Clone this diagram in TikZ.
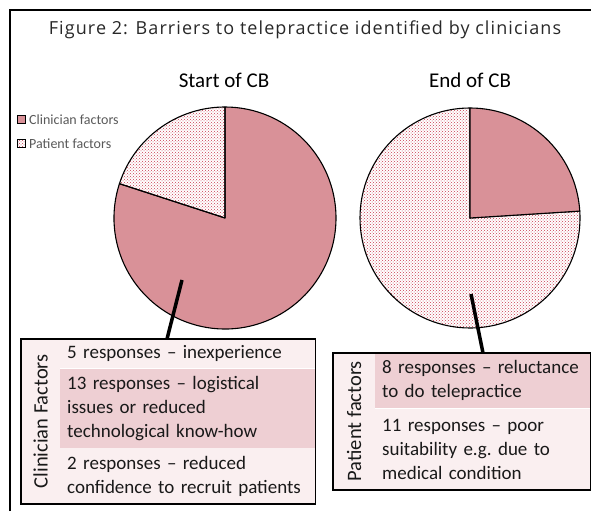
\documentclass[tikz,border=0pt]{standalone}
\usepackage{fontspec}
\setmainfont{Carlito}
\newfontfamily\titlefont[LetterSpace=6]{Open Sans}
\usetikzlibrary{patterns,positioning}
\definecolor{piepink}{RGB}{217,145,152}
\definecolor{dotred}{RGB}{200,60,80}
\definecolor{rowdark}{RGB}{238,207,211}
\definecolor{rowlight}{RGB}{250,239,240}
\definecolor{legendgray}{RGB}{89,89,89}
\definecolor{titlegray}{RGB}{40,40,40}
\begin{document}
\begin{tikzpicture}[x=1pt, y=1pt,
	row/.style={fill=#1, anchor=north west, inner xsep=7pt, inner ysep=0pt, align=left, font=\fontsize{19}{24}\selectfont, text=black!90},
	colbox/.style={fill=rowlight, anchor=north west, inner sep=0pt},
	coltext/.style={rotate=90, font=\fontsize{20.5}{22}\selectfont, text=black!90},
	slice/.style={draw=black, line width=1.1pt, line join=round},
	dots/.style={slice, pattern=crosshatch dots, pattern color=dotred},
	pointer/.style={line width=3.5pt},
	key/.style={draw=black, line width=1pt, minimum size=8pt, inner sep=0pt},
	keytext/.style={right=3pt of #1, inner sep=0pt, font=\fontsize{14}{16}\selectfont, text=legendgray}]
	\useasboundingbox (0,0) rectangle (591,511);
	\draw[line width=2pt] (10,0) -- (10,501) -- (591,501);
	\node[font=\titlefont\fontsize{18}{21}\selectfont, text=titlegray, anchor=base] (title) at (305,476) {Figure 2: Barriers to telepractice identified by clinicians};
	\node[font=\fontsize{21}{24}\selectfont, anchor=base] (start) at (224,423) {Start of CB};
	\node[font=\fontsize{21}{24}\selectfont, anchor=base] (end) at (470,423) {End of CB};
	\node[key, fill=piepink] (k1) at (21.5,391.5) {};
	\node[key, pattern=crosshatch dots, pattern color=dotred] (k2) at (21.5,367.5) {};
	\node[keytext=k1] (k1t) {Clinician factors};
	\node[keytext=k2] (k2t) {Patient factors};
	\coordinate (lpie) at (225,293);
	\coordinate (rpie) at (470,293);
	\filldraw[slice, fill=piepink] (lpie) -- ++(162:111) arc[start angle=162, end angle=450, radius=111] -- cycle;
	\draw[dots] (lpie) -- ++(90:111) arc[start angle=90, end angle=162, radius=111] -- cycle;
	\draw[dots] (rpie) -- ++(90:110) arc[start angle=90, end angle=363.6, radius=110] -- cycle;
	\filldraw[slice, fill=piepink] (rpie) -- ++(3.6:110) arc[start angle=3.6, end angle=90, radius=110] -- cycle;
	\node[colbox, minimum width=39pt, minimum height=164pt] (lc) at (21,172) {};
	\node[coltext] (lct) at (lc) {Clinician Factors};
	\node[row=rowlight, text width=241pt, minimum height=29pt] (c1) at (60,172) {5 responses -- inexperience};
	\node[row=rowdark, text width=241pt, minimum height=79pt] (c2) at (c1.south west) {13 responses -- logistical\\issues or reduced\\technological know-how};
	\node[row=rowlight, text width=241pt, minimum height=56pt] (c3) at (c2.south west) {2 responses -- reduced\\confidence to recruit patients};
	\draw[line width=1.5pt] (lc.north west) rectangle (c3.south east);
	\node[colbox, minimum width=42pt, minimum height=136pt] (rc) at (333,158) {};
	\node[coltext] (rct) at (rc) {Patient factors};
	\node[row=rowdark, text width=201pt, minimum height=55pt] (p1) at (375,158) {8 responses -- reluctance\\to do telepractice};
	\node[row=rowlight, text width=201pt, minimum height=81pt] (p2) at (p1.south west) {11 responses -- poor\\suitability e.g.\ due to\\medical condition};
	\draw[line width=1.5pt] (rc.north west) rectangle (p2.south east);
	\coordinate (lp) at (182,231);
	\coordinate (le) at (167,172);
	\coordinate (rp) at (471,217);
	\coordinate (re) at (483,158);
	\draw[pointer] (lp) -- (le);
	\draw[pointer] (rp) -- (re);
\end{tikzpicture}
\end{document}
